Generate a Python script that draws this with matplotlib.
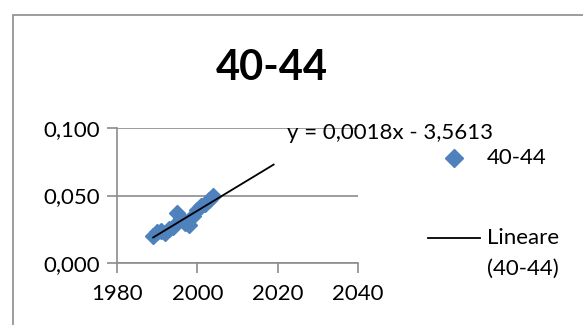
import matplotlib
matplotlib.use("Agg")
import matplotlib.pyplot as plt
from matplotlib.lines import Line2D
from matplotlib.patches import Rectangle

# Rate for age group 40-44 by year
years = [1989, 1990, 1991, 1992, 1993, 1994, 1995, 1996, 1997, 1998,
         1999, 2000, 2001, 2002, 2003, 2004]
rates = [0.020, 0.023, 0.024, 0.022, 0.025, 0.027, 0.037, 0.033, 0.030, 0.028,
         0.035, 0.039, 0.042, 0.044, 0.047, 0.050]

# Linear trendline (slope, intercept) and its drawn range
trend_slope = 0.0018
trend_intercept = -3.5613
trend_range = [1989, 2019]

x_ticks = [1980, 2000, 2020, 2040]
y_ticks = [0.000, 0.050, 0.100]
title = "40-44"

plt.rcParams['font.family'] = ['Lato', 'DejaVu Sans']

W, H = 583, 325
fig = plt.figure(figsize=(W / 100, H / 100), dpi=100)

# outer chart frame
fig.patches.append(Rectangle((13 / W, -0.1), 1.2, 1 - 15 / H + 0.1,
                             transform=fig.transFigure, fill=False,
                             edgecolor='#8c8c8c', linewidth=1.2))

ax = fig.add_axes([117 / W, 1 - 263 / H, (358 - 117) / W, (263 - 128) / H])
blue = '#4F81BD'
grid = '#8c8c8c'

ax.plot(years, rates, linestyle='none', marker='D', markersize=8.5,
        color=blue, markeredgecolor=blue, zorder=3)

tx = trend_range
ty = [trend_slope * x + trend_intercept for x in tx]
ax.plot(tx, ty, color='black', linewidth=1.3, zorder=4)

ax.set_xlim(x_ticks[0], x_ticks[-1])
ax.set_ylim(y_ticks[0], y_ticks[-1])
ax.set_xticks(x_ticks)
ax.set_yticks(y_ticks)
ax.set_xticklabels([str(v) for v in x_ticks])
ax.set_yticklabels([f"{v:.3f}".replace('.', ',') for v in y_ticks])
ax.tick_params(axis='both', labelsize=16, length=7, width=1.2, color=grid,
               direction='out', pad=5)
ax.tick_params(axis='x', pad=8)
ax.yaxis.grid(True, color=grid, linewidth=1.2)
ax.set_axisbelow(True)
for s in ['top', 'right']:
    ax.spines[s].set_visible(False)
for s in ['left', 'bottom']:
    ax.spines[s].set_color(grid)
    ax.spines[s].set_linewidth(1.2)
ax.patch.set_alpha(0)

fig.text(272 / W, 1 - 68 / H, title, ha='center', va='center',
         fontsize=30, fontweight='bold')

eq = f"y = {trend_slope:.4f}x - {abs(trend_intercept):.4f}".replace('.', ',')
fig.text(287 / W, 1 - 133 / H, eq, ha='left', va='center', fontsize=16)

# legend
fig.lines.append(Line2D([454 / W], [1 - 158 / H], transform=fig.transFigure,
                        marker='D', markersize=9.5, color=blue, linestyle='none'))
fig.text(487 / W, 1 - 158 / H, title, ha='left', va='center', fontsize=16)
fig.lines.append(Line2D([428 / W, 480 / W], [1 - 238 / H, 1 - 238 / H],
                        transform=fig.transFigure, color='black', linewidth=1.3))
fig.text(487 / W, 1 - 238 / H, "Lineare", ha='left', va='center', fontsize=16)
fig.text(487 / W, 1 - 269 / H, f"({title})", ha='left', va='center', fontsize=16)

fig.savefig("out.png", dpi=100)
